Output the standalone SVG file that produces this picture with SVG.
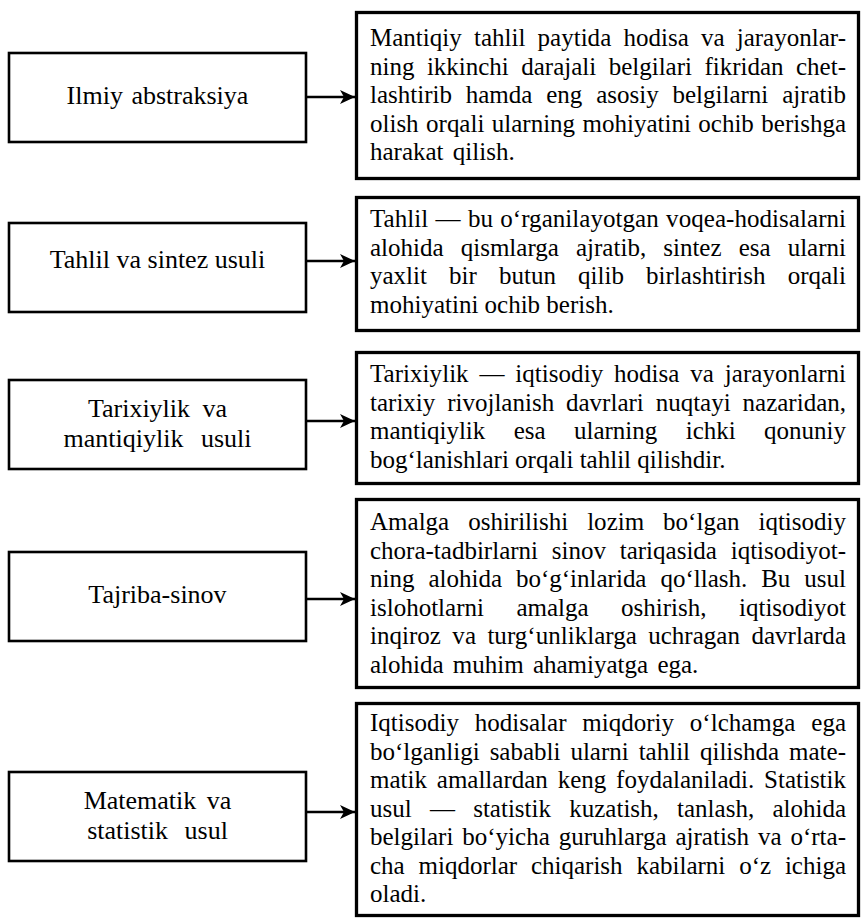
<svg xmlns="http://www.w3.org/2000/svg" width="863" height="921" viewBox="0 0 863 921">
<style>
.bg{fill:#fff}
.lb{fill:#fff;stroke:#000;stroke-width:2.6}
.rb{fill:#fff;stroke:#000;stroke-width:3.3}
.lt{font-family:"Liberation Serif","Times New Roman",serif;font-size:26px;fill:#000;text-anchor:middle}
.rt{font-family:"Liberation Serif","Times New Roman",serif;font-size:25px;fill:#000}
.cn{stroke:#000;stroke-width:2.6;fill:none}
</style>
<defs>
<marker id="ah" viewBox="0 0 15 14" refX="15" refY="7" markerWidth="15" markerHeight="14" markerUnits="userSpaceOnUse" orient="auto">
<path d="M0,0 L15,7 L0,14 L4,7 Z" fill="#000"/>
</marker>
</defs>
<rect class="bg" x="0" y="0" width="863" height="921"/>

<g id="connectors">
<line class="cn" x1="307" y1="97" x2="355" y2="97" marker-end="url(#ah)"/>
<line class="cn" x1="307" y1="261" x2="355" y2="261" marker-end="url(#ah)"/>
<line class="cn" x1="307" y1="421" x2="355" y2="421" marker-end="url(#ah)"/>
<line class="cn" x1="307" y1="599" x2="355" y2="599" marker-end="url(#ah)"/>
<line class="cn" x1="307" y1="812" x2="355" y2="812" marker-end="url(#ah)"/>
</g>

<g id="method1">
<rect class="lb" x="9" y="53" width="297" height="89"/>
<text class="lt" x="157.5" y="104" word-spacing="2">Ilmiy abstraksiya</text>
</g>
<g id="desc1">
<rect class="rb" x="356.5" y="12.5" width="502" height="166"/>
<text class="rt" x="370" y="46" word-spacing="5.9" textLength="476" lengthAdjust="spacing">Mantiqiy tahlil paytida hodisa va jarayonlar-</text>
<text class="rt" x="370" y="74.5" word-spacing="6.2" textLength="476" lengthAdjust="spacing">ning ikkinchi darajali belgilari fikridan chet-</text>
<text class="rt" x="370" y="103" word-spacing="7.6" textLength="476" lengthAdjust="spacing">lashtirib hamda eng asosiy belgilarni ajratib</text>
<text class="rt" x="370" y="131.5" word-spacing="1.2" textLength="476" lengthAdjust="spacing">olish orqali ularning mohiyatini ochib berishga</text>
<text class="rt" x="370" y="160" word-spacing="3">harakat qilish.</text>
</g>

<g id="method2">
<rect class="lb" x="9" y="223" width="297" height="89"/>
<text class="lt" x="157.5" y="268">Tahlil va sintez usuli</text>
</g>
<g id="desc2">
<rect class="rb" x="356.5" y="197.5" width="502" height="133"/>
<text class="rt" x="370" y="227" word-spacing="1" textLength="476" lengthAdjust="spacing">Tahlil — bu o‘rganilayotgan voqea-hodisalarni</text>
<text class="rt" x="370" y="255.5" word-spacing="10.8" textLength="476" lengthAdjust="spacing">alohida qismlarga ajratib, sintez esa ularni</text>
<text class="rt" x="370" y="284" word-spacing="15.9" textLength="476" lengthAdjust="spacing">yaxlit bir butun qilib birlashtirish orqali</text>
<text class="rt" x="370" y="312.5">mohiyatini ochib berish.</text>
</g>

<g id="method3">
<rect class="lb" x="9" y="380" width="297" height="89"/>
<text class="lt" x="157.5" y="416.5" word-spacing="6">Tarixiylik va</text>
<text class="lt" x="157.5" y="446.5" word-spacing="11">mantiqiylik usuli</text>
</g>
<g id="desc3">
<rect class="rb" x="356.5" y="352.5" width="502" height="131"/>
<text class="rt" x="370" y="382" word-spacing="4.5" textLength="476" lengthAdjust="spacing">Tarixiylik — iqtisodiy hodisa va jarayonlarni</text>
<text class="rt" x="370" y="410.5" word-spacing="5.6" textLength="476" lengthAdjust="spacing">tarixiy rivojlanish davrlari nuqtayi nazaridan,</text>
<text class="rt" x="370" y="439" word-spacing="22.1" textLength="476" lengthAdjust="spacing">mantiqiylik esa ularning ichki qonuniy</text>
<text class="rt" x="370" y="467.5">bog‘lanishlari orqali tahlil qilishdir.</text>
</g>

<g id="method4">
<rect class="lb" x="9" y="552" width="297" height="89"/>
<text class="lt" x="157.5" y="603">Tajriba-sinov</text>
</g>
<g id="desc4">
<rect class="rb" x="356.5" y="499.5" width="502" height="188"/>
<text class="rt" x="370" y="530" word-spacing="12.7" textLength="476" lengthAdjust="spacing">Amalga oshirilishi lozim bo‘lgan iqtisodiy</text>
<text class="rt" x="370" y="558.5" word-spacing="7.5" textLength="476" lengthAdjust="spacing">chora-tadbirlarni sinov tariqasida iqtisodiyot-</text>
<text class="rt" x="370" y="587" word-spacing="7.7" textLength="476" lengthAdjust="spacing">ning alohida bo‘g‘inlarida qo‘llash. Bu usul</text>
<text class="rt" x="370" y="615.5" word-spacing="26.2" textLength="476" lengthAdjust="spacing">islohotlarni amalga oshirish, iqtisodiyot</text>
<text class="rt" x="370" y="644" word-spacing="5.1" textLength="476" lengthAdjust="spacing">inqiroz va turg‘unliklarga uchragan davrlarda</text>
<text class="rt" x="370" y="672.5" word-spacing="3">alohida muhim ahamiyatga ega.</text>
</g>

<g id="method5">
<rect class="lb" x="9" y="772" width="297" height="89"/>
<text class="lt" x="157.5" y="808.5" word-spacing="4">Matematik va</text>
<text class="lt" x="157.5" y="838.5" word-spacing="10">statistik usul</text>
</g>
<g id="desc5">
<rect class="rb" x="356.5" y="703.5" width="502" height="212"/>
<text class="rt" x="370" y="731" word-spacing="9.6" textLength="476" lengthAdjust="spacing">Iqtisodiy hodisalar miqdoriy o‘lchamga ega</text>
<text class="rt" x="370" y="759.5" word-spacing="3.7" textLength="476" lengthAdjust="spacing">bo‘lganligi sababli ularni tahlil qilishda mate-</text>
<text class="rt" x="370" y="788" word-spacing="3.6" textLength="476" lengthAdjust="spacing">matik amallardan keng foydalaniladi. Statistik</text>
<text class="rt" x="370" y="816.5" word-spacing="12" textLength="476" lengthAdjust="spacing">usul — statistik kuzatish, tanlash, alohida</text>
<text class="rt" x="370" y="845" word-spacing="2.6" textLength="476" lengthAdjust="spacing">belgilari bo‘yicha guruhlarga ajratish va o‘rta-</text>
<text class="rt" x="370" y="873.5" word-spacing="7.6" textLength="476" lengthAdjust="spacing">cha miqdorlar chiqarish kabilarni o‘z ichiga</text>
<text class="rt" x="370" y="902">oladi.</text>
</g>
</svg>
